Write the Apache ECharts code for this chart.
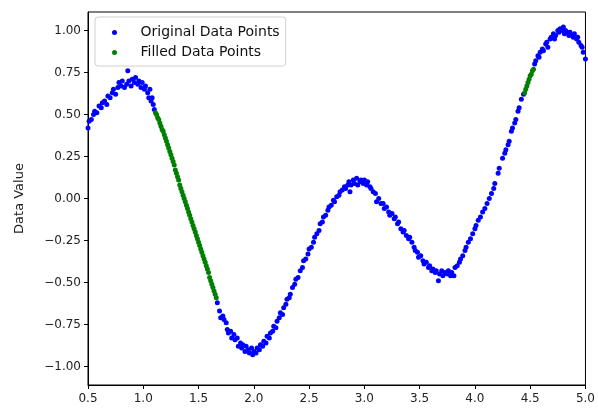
<!DOCTYPE html>
<html><head><meta charset="utf-8">
<script src="https://cdn.jsdelivr.net/npm/echarts@6/dist/echarts.min.js"></script>
<style>html,body{margin:0;padding:0;background:#fff}#c{width:598px;height:412px}</style>
</head><body><div id="c"></div>
<script>
const origX = [0.50,0.51,0.53,0.55,0.56,0.58,0.60,0.62,0.63,0.65,0.67,0.68,0.70,0.72,0.73,0.75,0.77,0.78,0.80,0.81,0.83,0.85,0.86,0.87,0.89,0.90,0.92,0.93,0.95,0.96,0.98,0.99,1.01,1.02,1.04,1.05,1.06,1.07,1.08,1.09,1.10,
1.67,1.69,1.70,1.72,1.73,1.75,1.76,1.77,1.79,1.80,1.82,1.83,1.85,1.86,1.88,1.89,1.90,1.92,1.93,1.95,1.96,1.98,1.99,2.00,2.02,2.03,2.05,2.06,2.08,2.09,2.11,2.12,2.14,2.15,2.17,2.18,2.20,2.21,2.23,2.24,2.26,2.27,2.29,2.30,2.32,2.33,2.35,2.37,2.38,2.40,2.42,2.44,2.45,2.47,2.49,2.50,2.52,2.54,2.55,2.57,2.59,2.60,2.62,2.63,2.65,2.67,2.68,2.70,2.72,2.73,2.75,2.77,2.78,2.80,2.82,2.83,2.85,2.86,2.87,2.88,2.90,2.91,2.93,2.94,2.96,2.97,2.99,3.00,3.02,3.03,3.05,3.06,3.08,3.10,3.11,3.13,3.15,3.17,3.18,3.20,3.22,3.23,3.25,3.27,3.28,3.30,3.31,3.33,3.35,3.36,3.38,3.40,3.41,3.43,3.45,3.46,3.48,3.49,3.51,3.53,3.54,3.56,3.58,3.59,3.61,3.62,3.64,3.65,3.67,3.68,3.70,3.71,3.73,3.75,3.76,3.78,3.79,3.81,3.82,3.84,3.86,3.87,3.89,3.91,3.92,3.94,3.96,3.98,4.00,4.01,4.03,4.05,4.07,4.09,4.11,4.13,4.15,4.17,4.18,4.21,4.22,4.25,4.27,4.28,4.30,4.31,4.33,4.34,4.36,4.37,4.39,4.40,4.42,4.44,
4.54,4.55,4.57,4.58,4.59,4.61,4.62,4.64,4.65,4.66,4.68,4.69,4.71,4.72,4.73,4.75,4.76,4.77,4.79,4.80,4.81,4.82,4.84,4.85,4.86,4.88,4.89,4.90,4.92,4.93,4.94,4.96,4.97,4.98,5.00];
const origY = [0.42,0.46,0.47,0.50,0.52,0.51,0.55,0.54,0.57,0.58,0.56,0.61,0.60,0.63,0.65,0.62,0.66,0.69,0.67,0.70,0.66,0.68,0.76,0.70,0.67,0.71,0.69,0.72,0.68,0.70,0.66,0.69,0.65,0.67,0.63,0.60,0.65,0.58,0.60,0.56,0.53,
-0.62,-0.67,-0.71,-0.70,-0.72,-0.74,-0.78,-0.80,-0.79,-0.83,-0.81,-0.84,-0.83,-0.88,-0.86,-0.89,-0.87,-0.91,-0.88,-0.90,-0.92,-0.89,-0.93,-0.91,-0.92,-0.89,-0.90,-0.87,-0.88,-0.85,-0.86,-0.82,-0.83,-0.80,-0.79,-0.76,-0.77,-0.73,-0.71,-0.68,-0.69,-0.65,-0.63,-0.60,-0.59,-0.57,-0.53,-0.51,-0.48,-0.47,-0.43,-0.41,-0.37,-0.36,-0.33,-0.30,-0.29,-0.26,-0.23,-0.21,-0.19,-0.15,-0.14,-0.11,-0.10,-0.07,-0.05,-0.04,-0.01,-0.02,0.01,0.02,0.04,0.05,0.07,0.06,0.08,0.10,0.04,0.08,0.11,0.09,0.12,0.08,0.10,0.11,0.09,0.11,0.08,0.10,0.07,0.06,0.04,0.03,-0.02,0.00,-0.03,-0.03,-0.06,-0.05,-0.08,-0.10,-0.09,-0.12,-0.11,-0.15,-0.14,-0.18,-0.20,-0.19,-0.22,-0.24,-0.23,-0.26,-0.29,-0.31,-0.32,-0.35,-0.34,-0.37,-0.39,-0.38,-0.41,-0.40,-0.43,-0.42,-0.44,-0.43,-0.49,-0.45,-0.43,-0.46,-0.44,-0.45,-0.43,-0.46,-0.44,-0.46,-0.41,-0.40,-0.38,-0.36,-0.34,-0.31,-0.29,-0.26,-0.24,-0.21,-0.18,-0.16,-0.13,-0.11,-0.08,-0.06,-0.03,0.00,0.03,0.06,0.09,0.15,0.18,0.24,0.27,0.29,0.32,0.34,0.40,0.42,0.45,0.47,0.52,0.54,0.59,0.62,
0.80,0.82,0.85,0.84,0.87,0.89,0.88,0.92,0.93,0.90,0.95,0.96,0.98,0.95,0.97,1.00,0.99,1.01,1.00,1.02,0.98,1.00,0.99,0.97,0.99,0.97,0.96,0.98,0.95,0.96,0.93,0.91,0.90,0.87,0.83];
const fillX = [1.11,1.12,1.13,1.14,1.15,1.16,1.17,1.18,1.19,1.20,1.21,1.22,1.23,1.24,1.25,1.26,1.27,1.28,1.29,1.30,1.31,1.32,1.33,1.34,1.35,1.36,1.37,1.38,1.39,1.40,1.41,1.42,1.43,1.44,1.45,1.46,1.47,1.48,1.49,1.50,1.51,1.52,1.53,1.54,1.55,1.56,1.57,1.58,1.59,1.60,1.61,1.62,1.63,1.64,1.65,1.66,
4.45,4.46,4.47,4.48,4.49,4.50,4.51,4.52,4.53];
const fillY = [0.51,0.50,0.48,0.47,0.45,0.43,0.41,0.40,0.38,0.36,0.34,0.32,0.30,0.28,0.26,0.24,0.22,0.20,0.17,0.15,0.13,0.11,0.08,0.06,0.04,0.02,0.00,-0.02,-0.04,-0.06,-0.08,-0.10,-0.12,-0.14,-0.16,-0.18,-0.20,-0.22,-0.24,-0.26,-0.28,-0.30,-0.32,-0.34,-0.36,-0.38,-0.40,-0.42,-0.44,-0.47,-0.49,-0.51,-0.53,-0.55,-0.57,-0.59,
0.63,0.65,0.67,0.69,0.71,0.73,0.74,0.76,0.77];
const xTicks = [0.5,1.0,1.5,2.0,2.5,3.0,3.5,4.0,4.5,5.0];
const yTicks = [-1.00,-0.75,-0.50,-0.25,0.00,0.25,0.50,0.75,1.00];
const yLabel = 'Data Value';
const seriesNames = ['Original Data Points','Filled Data Points'];

const FONT = 'DejaVu Sans';
const chart = echarts.init(document.getElementById('c'), null, {renderer:'canvas'});
chart.setOption({
  animation:false,
  backgroundColor:'#fff',
  grid:{left:88,right:8,top:12,bottom:27,show:true,borderColor:'#000',borderWidth:1,backgroundColor:'transparent'},
  legend:{
    left:95,top:17,orient:'vertical',
    padding:[8,6,6,17],itemGap:5,itemWidth:30,itemHeight:5,
    backgroundColor:'rgba(255,255,255,0.8)',borderColor:'#d0d0d0',borderWidth:1,borderRadius:3,
    textStyle:{fontFamily:FONT,fontSize:14,color:'#111',padding:[0,0,0,6],lineHeight:15},
    data:[{name:seriesNames[0],icon:'circle'},{name:seriesNames[1],icon:'circle'}]
  },
  xAxis:{
    type:'value',min:0.5,max:5.0,interval:0.5,
    axisLine:{show:true,onZero:false,lineStyle:{color:'#000',width:1}},
    axisTick:{show:true,length:4,inside:false,customValues:xTicks,lineStyle:{color:'#000'}},
    splitLine:{show:false},
    axisLabel:{fontFamily:FONT,fontSize:12,color:'#222',margin:8,customValues:xTicks,formatter:v=>v.toFixed(1)}
  },
  yAxis:{
    type:'value',min:-1.11,max:1.11,
    name:yLabel,nameLocation:'middle',nameGap:62,
    nameTextStyle:{fontFamily:FONT,fontSize:13,color:'#222'},
    axisLine:{show:true,onZero:false,lineStyle:{color:'#000',width:1}},
    axisTick:{show:true,length:4,customValues:yTicks,lineStyle:{color:'#000'}},
    splitLine:{show:false},
    axisLabel:{fontFamily:FONT,fontSize:12,color:'#222',margin:7,customValues:yTicks,formatter:v=>v.toFixed(2).replace('-','\u2212')}
  },
  series:[
    {name:seriesNames[0],type:'scatter',symbol:'circle',symbolSize:5,itemStyle:{color:'#0000ff',opacity:1},
     data:origX.map((x,i)=>[x,origY[i]])},
    {name:seriesNames[1],type:'scatter',symbol:'circle',symbolSize:5,itemStyle:{color:'#008000',opacity:1},
     data:fillX.map((x,i)=>[x,fillY[i]])}
  ]
});
</script></body></html>
